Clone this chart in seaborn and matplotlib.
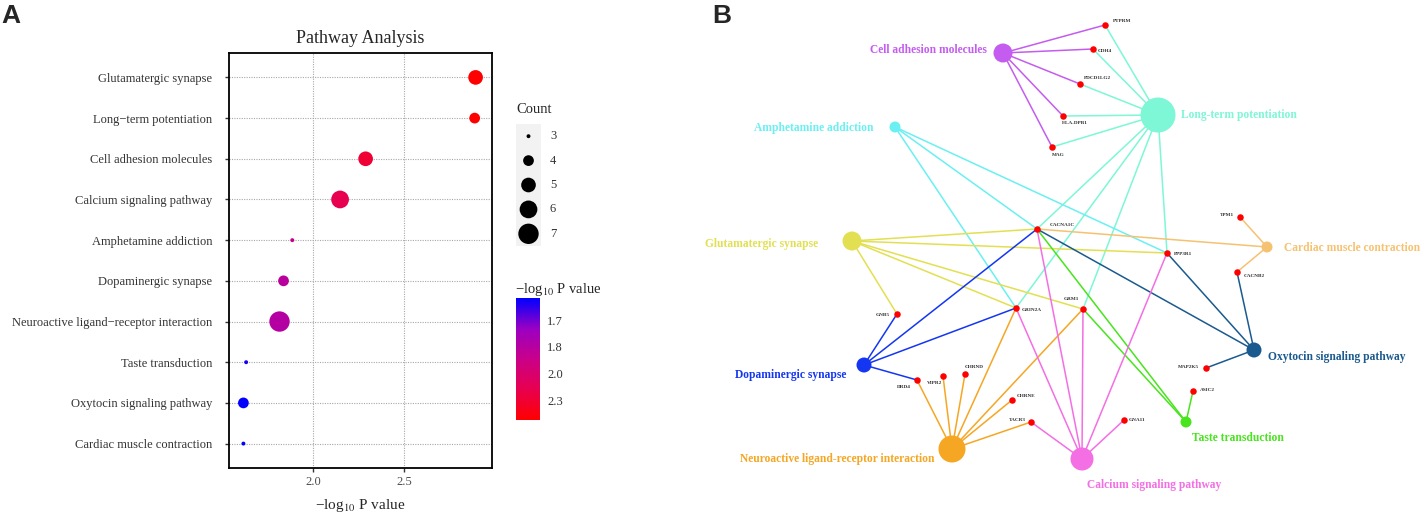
import matplotlib
matplotlib.use("Agg")
import matplotlib.pyplot as plt
from matplotlib.colors import LinearSegmentedColormap, Normalize
from matplotlib.cm import ScalarMappable
import pandas as pd
import seaborn as sns

# ---- panel A: enrichment dot plot ----
pathways = ["Glutamatergic synapse", "Long-term potentiation", "Cell adhesion molecules",
            "Calcium signaling pathway", "Amphetamine addiction", "Dopaminergic synapse",
            "Neuroactive ligand-receptor interaction", "Taste transduction",
            "Oxytocin signaling pathway", "Cardiac muscle contraction"]
neg_log10_p = [2.89, 2.885, 2.287, 2.147, 1.885, 1.837, 1.815, 1.632, 1.617, 1.617]
gene_count = [5, 4, 5, 6, 3, 4, 7, 3, 4, 3]
count_legend = [3, 4, 5, 6, 7]
cbar_p_breaks = [0.02, 0.015, 0.01, 0.005]
cbar_labels = ["1.7", "1.8", "2.0", "2.3"]

# ---- panel B: pathway-gene network ----
pathway_genes = {
    "Cell adhesion molecules": ["PTPRM", "CDH4", "PDCD1LG2", "HLA-DPB1", "MAG"],
    "Long-term potentiation": ["PTPRM", "CDH4", "PDCD1LG2", "HLA-DPB1", "MAG",
                               "CACNA1C", "GRIN2A", "GRM1", "PPP3R1"],
    "Amphetamine addiction": ["CACNA1C", "GRIN2A", "PPP3R1"],
    "Glutamatergic synapse": ["CACNA1C", "PPP3R1", "GRIN2A", "GRM1", "GNB5"],
    "Cardiac muscle contraction": ["TPM1", "CACNB2", "CACNA1C"],
    "Dopaminergic synapse": ["GNB5", "CACNA1C", "GRIN2A", "DRD4"],
    "Oxytocin signaling pathway": ["CACNA1C", "PPP3R1", "CACNB2", "MAP2K5"],
    "Taste transduction": ["ASIC2", "CACNA1C", "GRM1"],
    "Neuroactive ligand-receptor interaction": ["DRD4", "VIPR2", "CHRND", "CHRNE",
                                                "TACR3", "GRIN2A", "GRM1"],
    "Calcium signaling pathway": ["TACR3", "GNA11", "PPP3R1", "GRM1", "CACNA1C", "GRIN2A"],
}

# layout of the network (panel pixel coordinates)
node_pos = {
    "Cell adhesion molecules": (1003, 53), "Long-term potentiation": (1158, 115),
    "Amphetamine addiction": (895, 127), "Glutamatergic synapse": (852, 241),
    "Cardiac muscle contraction": (1267, 247), "Dopaminergic synapse": (864, 365),
    "Oxytocin signaling pathway": (1254, 350), "Taste transduction": (1186, 422),
    "Neuroactive ligand-receptor interaction": (952, 449), "Calcium signaling pathway": (1082, 459),
    "PTPRM": (1105, 25), "CDH4": (1093, 49), "PDCD1LG2": (1080, 84), "HLA-DPB1": (1063, 116),
    "MAG": (1052, 147), "CACNA1C": (1037, 229), "PPP3R1": (1167, 253), "TPM1": (1240, 217),
    "CACNB2": (1237, 272), "GRIN2A": (1016, 308), "GRM1": (1083, 309), "GNB5": (897, 314),
    "DRD4": (917, 380), "VIPR2": (943, 376), "CHRND": (965, 374), "CHRNE": (1012, 400),
    "TACR3": (1031, 422), "GNA11": (1124, 420), "MAP2K5": (1206, 368), "ASIC2": (1193, 391),
}

pathway_colors = {
    "Cell adhesion molecules": "#C45CF0", "Long-term potentiation": "#7DF7D6",
    "Amphetamine addiction": "#6AF0F2", "Glutamatergic synapse": "#E2E052",
    "Cardiac muscle contraction": "#F5C272", "Dopaminergic synapse": "#1436F2",
    "Oxytocin signaling pathway": "#1B5A8E", "Taste transduction": "#48E41E",
    "Neuroactive ligand-receptor interaction": "#F5A623", "Calcium signaling pathway": "#F46EE4",
}
pathway_label_off = {
    "Cell adhesion molecules": (-16, -3, "right"), "Long-term potentiation": (23, 0, "left"),
    "Amphetamine addiction": (-21, 1, "right"), "Glutamatergic synapse": (-34, 3, "right"),
    "Cardiac muscle contraction": (17, 1, "left"), "Dopaminergic synapse": (-18, 10, "right"),
    "Oxytocin signaling pathway": (14, 7, "left"), "Taste transduction": (6, 16, "left"),
    "Neuroactive ligand-receptor interaction": (-17, 10, "right"),
    "Calcium signaling pathway": (5, 26, "left"),
}
gene_label_off = {
    "PTPRM": (8, -4, "left"), "CDH4": (5, 2, "left"), "PDCD1LG2": (4, -6, "left"),
    "HLA-DPB1": (12, 7, "center"), "MAG": (6, 8, "center"), "CACNA1C": (13, -4, "left"),
    "PPP3R1": (7, 1, "left"), "TPM1": (-6, -2, "right"), "CACNB2": (7, 4, "left"),
    "GRIN2A": (6, 2, "left"), "GRM1": (-12, -10, "center"), "GNB5": (-7, 1, "right"),
    "DRD4": (-13, 7, "center"), "VIPR2": (-8, 7, "center"), "CHRND": (9, -7, "center"),
    "CHRNE": (5, -4, "left"), "TACR3": (-5, -2, "right"), "GNA11": (5, 0, "left"),
    "MAP2K5": (-7, -1, "right"), "ASIC2": (7, -1, "left"),
}

sns.set_style("white")
plt.rcParams["font.family"] = ["Liberation Serif", "DejaVu Serif"]
plt.rcParams["mathtext.fontset"] = "stix"

fig = plt.figure(figsize=(14.24, 5.16), dpi=100)
W, H = 1424, 516

# colour scale is linear in p value, red (small p) to blue
cmap = LinearSegmentedColormap.from_list(
    "p_red_blue", ["#FF0000", "#E8004F", "#C90089", "#9A00C3", "#0000FF"])

df = pd.DataFrame({"pathway": [p.replace("-", "\u2212") for p in pathways],
                   "score": neg_log10_p, "count": gene_count})
df["p"] = 10 ** (-df["score"])
pnorm = Normalize(df["p"].min(), df["p"].max())
size_range = (8, 215)

axA = fig.add_axes([229 / W, 1 - 468 / H, 263 / W, 415 / H])
sns.scatterplot(data=df, x="score", y="pathway", hue="p", size="count",
                palette=cmap, hue_norm=pnorm, sizes=size_range, size_norm=(3, 7),
                linewidth=0, legend=False, ax=axA, zorder=3)
axA.set_xlim(1.538, 2.98)
axA.set_ylim(len(pathways) - 0.4, -0.6)
axA.set_xticks([2.0, 2.5])
axA.set_xticklabels(["2.0", "2.5"])
axA.grid(True, color="#A8A8A8", linestyle=(0, (1, 1.2)), linewidth=0.8)
axA.set_axisbelow(True)
for s in axA.spines.values():
    s.set_color("black")
    s.set_linewidth(1.3)
axA.tick_params(axis="y", length=3, width=1, pad=9, labelsize=9, labelcolor="#333333",
                left=True, color="#333333")
axA.tick_params(axis="x", length=3, width=1, pad=3, labelsize=9, labelcolor="#4D4D4D",
                bottom=True, color="#333333")
axA.set_ylabel("")
axA.set_xlabel("\u2212log$_{10}$ P value", fontsize=11, labelpad=6)
axA.set_title("Pathway Analysis", fontsize=13, pad=7)

# size legend
fig.text(516 / W, 1 - 110 / H, "Count", fontsize=10.5, va="center", ha="left")
axL = fig.add_axes([516 / W, 1 - 246 / H, 25 / W, 122 / H])
axL.set_facecolor("#F2F2F2")
leg_df = pd.DataFrame({"x": [0.5] * len(count_legend), "y": count_legend, "count": count_legend})
sns.scatterplot(data=leg_df, x="x", y="y", size="count", sizes=size_range, size_norm=(3, 7),
                color="black", linewidth=0, legend=False, ax=axL)
axL.set_xlim(0, 1)
axL.set_ylim(7.5, 2.5)
for c in count_legend:
    axL.text(1.36, c, str(c), fontsize=9, va="center", ha="left", color="#333333", clip_on=False)
axL.set_xticks([])
axL.set_yticks([])
axL.set_xlabel("")
axL.set_ylabel("")
for s in axL.spines.values():
    s.set_visible(False)

# colour bar
fig.text(515 / W, 1 - 290 / H, "\u2212log$_{10}$ P value", fontsize=10.5, va="center", ha="left")
cax = fig.add_axes([516 / W, 1 - 420 / H, 24 / W, 122 / H])
cb = fig.colorbar(ScalarMappable(norm=pnorm, cmap=cmap), cax=cax)
cb.outline.set_visible(False)
cb.set_ticks(cbar_p_breaks)
cb.set_ticklabels(cbar_labels)
cax.tick_params(axis="y", left=True, right=True, labelleft=False, labelright=True,
                direction="in", color="white", length=4, width=0.8,
                labelsize=9, labelcolor="#333333", pad=5)

# ---- panel B ----
axB = fig.add_axes([700 / W, 0, 724 / W, 1])
axB.set_xlim(700, 1424)
axB.set_ylim(516, 0)
axB.axis("off")

for pw, genes in pathway_genes.items():
    x0, y0 = node_pos[pw]
    for g in genes:
        x1, y1 = node_pos[g]
        axB.plot([x0, x1], [y0, y1], color=pathway_colors[pw], lw=1.1, zorder=1,
                 solid_capstyle="round")

pw_names = list(pathway_genes)
degree = [len(pathway_genes[p]) for p in pw_names]
radius_px = [2 * d - 0.5 for d in degree]
axB.scatter([node_pos[p][0] for p in pw_names], [node_pos[p][1] for p in pw_names],
            s=[(2 * r * 0.72) ** 2 for r in radius_px],
            c=[pathway_colors[p] for p in pw_names], linewidths=0, zorder=3)

genes_all = list(gene_label_off)
axB.scatter([node_pos[g][0] for g in genes_all], [node_pos[g][1] for g in genes_all],
            s=(6.5 * 0.72) ** 2, c="#FF0000", linewidths=0, zorder=4)

for p in pw_names:
    dx, dy, ha = pathway_label_off[p]
    x, y = node_pos[p]
    axB.text(x + dx, y + dy, p, color=pathway_colors[p], fontsize=8.3, fontweight="bold",
             ha=ha, va="center", zorder=5)
for g in genes_all:
    dx, dy, ha = gene_label_off[g]
    x, y = node_pos[g]
    axB.text(x + dx, y + dy, g, color="#333333", fontsize=3.8, fontweight="bold",
             ha=ha, va="center", zorder=5)

# panel letters
fig.text(1 / W, 1 - 16 / H, "A", fontsize=19, fontweight="bold", family="Liberation Sans",
         va="center", ha="left")
fig.text(712 / W, 1 - 16 / H, "B", fontsize=19, fontweight="bold", family="Liberation Sans",
         va="center", ha="left")

fig.savefig("out.png", dpi=100)
